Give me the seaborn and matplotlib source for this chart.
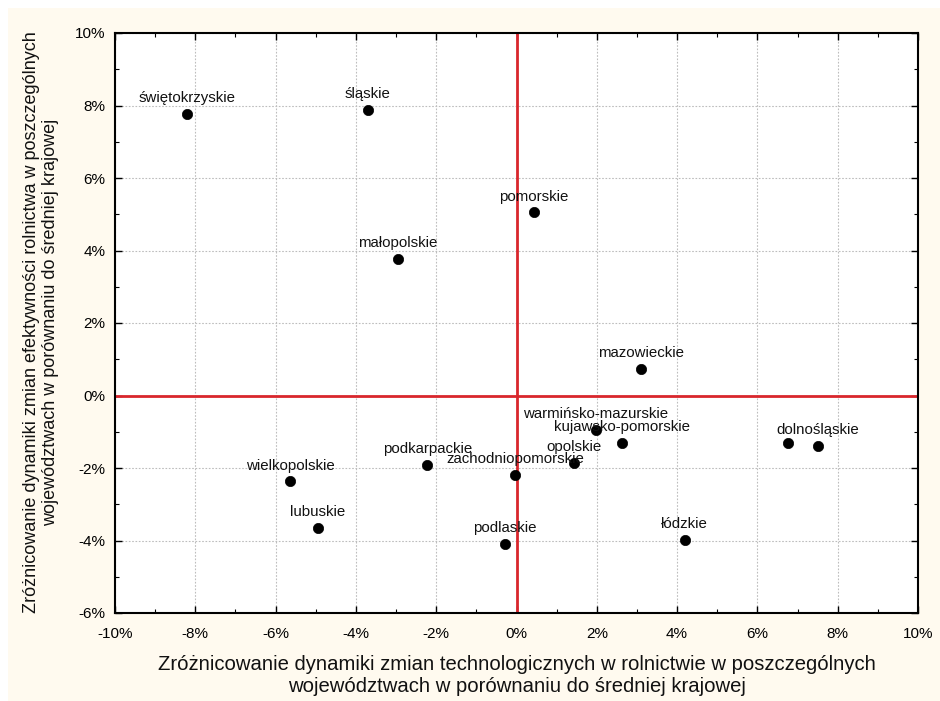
import matplotlib
matplotlib.use("Agg")
import matplotlib.pyplot as plt
import matplotlib.ticker as mticker
from matplotlib.patches import Rectangle
import seaborn as sns
import pandas as pd

# ---- data (in %) ----
regions = ["świętokrzyskie", "śląskie", "pomorskie", "małopolskie", "mazowieckie",
           "warmińsko-mazurskie", "kujawsko-pomorskie", "lubelskie", "dolnośląskie",
           "opolskie", "zachodniopomorskie", "podkarpackie", "wielkopolskie",
           "lubuskie", "podlaskie", "łódzkie"]
tech_diff = [-8.21, -3.71, 0.44, -2.95, 3.09,
             1.97, 2.62, 6.77, 7.50,
             1.42, -0.04, -2.22, -5.64,
             -4.95, -0.29, 4.19]
eff_diff = [7.76, 7.87, 5.05, 3.77, 0.74,
            -0.95, -1.31, -1.31, -1.39,
            -1.87, -2.20, -1.92, -2.37,
            -3.66, -4.10, -3.98]
hidden_labels = ["lubelskie"]  # point drawn, label not visible in the reference

x_ticks = [-10, -8, -6, -4, -2, 0, 2, 4, 6, 8, 10]
y_ticks = [-6, -4, -2, 0, 2, 4, 6, 8, 10]

xlabel = ("Zróżnicowanie dynamiki zmian technologicznych w rolnictwie w poszczególnych\n"
          "województwach w porównaniu do średniej krajowej")
ylabel = ("Zróżnicowanie dynamiki zmian efektywności rolnictwa w poszczególnych\n"
          "województwach w porównaniu do średniej krajowej")

df = pd.DataFrame({"region": regions, "x": tech_diff, "y": eff_diff})

sns.set_theme(style="white")
plt.rcParams["font.family"] = ["Liberation Sans", "DejaVu Sans"]

fig = plt.figure(figsize=(9.40, 7.01), dpi=100, facecolor="white")
# cream panel background (white strip at top and left as in the reference)
fig.patches.append(Rectangle((8 / 940, 0), 1, (701 - 8) / 701, transform=fig.transFigure,
                             facecolor="#FFFAEF", edgecolor="none", zorder=-10))

ax = fig.add_axes([115 / 940, (701 - 613) / 701, (918 - 115) / 940, (613 - 33) / 701])
ax.set_facecolor("white")

ax.grid(True, which="major", linestyle=(0, (1.5, 1.5)), color="#bdbdbd", linewidth=0.8, zorder=0)
ax.axvline(0, color="#D9262C", linewidth=2.0, zorder=2)
ax.axhline(0, color="#D9262C", linewidth=2.0, zorder=2)

sns.scatterplot(data=df, x="x", y="y", color="black", s=55, edgecolor="black",
                linewidth=0.5, zorder=3, ax=ax, legend=False)

for r, xv, yv in zip(regions, tech_diff, eff_diff):
    if r in hidden_labels:
        continue
    ax.annotate(r, (xv, yv), xytext=(0, 8.5), textcoords="offset points",
                ha="center", va="baseline", fontsize=10.8, color="#111111", zorder=4)

ax.set_xlim(-10, 10)
ax.set_ylim(-6, 10)
ax.set_xticks(x_ticks)
ax.set_yticks(y_ticks)
ax.xaxis.set_minor_locator(mticker.MultipleLocator(1))
ax.yaxis.set_minor_locator(mticker.MultipleLocator(1))
ax.xaxis.set_major_formatter(mticker.FuncFormatter(lambda v, p: f"{v:.0f}%"))
ax.yaxis.set_major_formatter(mticker.FuncFormatter(lambda v, p: f"{v:.0f}%"))
ax.tick_params(which="both", direction="in", top=True, right=True, bottom=True, left=True,
               colors="black", labelsize=11)
ax.tick_params(axis="x", which="major", length=5, width=1.0, pad=10)
ax.tick_params(axis="y", which="major", length=5, width=1.0, pad=7)
ax.tick_params(which="minor", length=3, width=0.8)
ax.set_xlabel("")
ax.set_ylabel("")
for s in ax.spines.values():
    s.set_visible(True)
    s.set_color("black")
    s.set_linewidth(1.5)

fig.text(517 / 940, 1 - 675.5 / 701, xlabel, ha="center", va="center", fontsize=14.6,
         linespacing=1.2, color="#111111")
fig.text(41 / 940, 1 - 322.5 / 701, ylabel, ha="center", va="center", rotation=90,
         fontsize=12.95, linespacing=1.2, color="#111111")

fig.savefig("out.png", dpi=100, facecolor=fig.get_facecolor())
